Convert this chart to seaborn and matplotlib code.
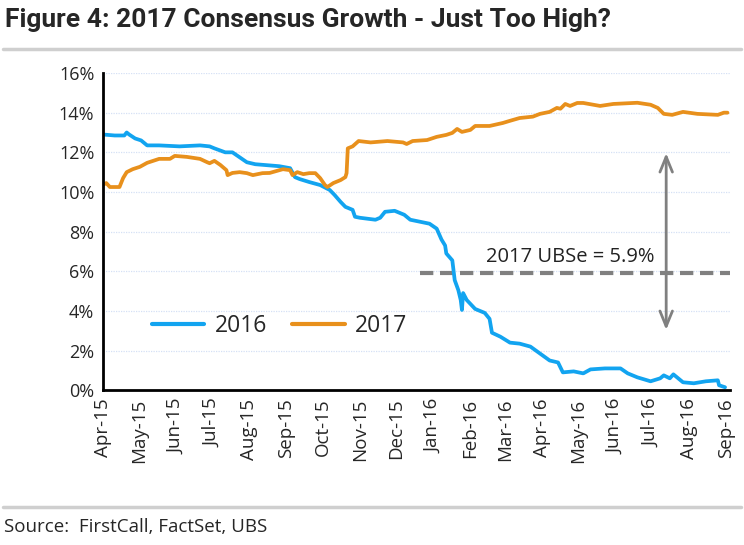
import pandas as pd
import matplotlib.pyplot as plt
import matplotlib.dates as mdates
from matplotlib.lines import Line2D
import seaborn as sns

# 2016 consensus growth (%)
dates_2016 = [
    "2015-04-01", "2015-04-11", "2015-04-19", "2015-04-21", "2015-04-23", "2015-04-28",
    "2015-05-03", "2015-05-08", "2015-05-18", "2015-06-04", "2015-06-21", "2015-06-29",
    "2015-07-03", "2015-07-12", "2015-07-18", "2015-07-24", "2015-07-30", "2015-08-06",
    "2015-08-16", "2015-08-26", "2015-09-04", "2015-09-08", "2015-09-12", "2015-09-20",
    "2015-09-29", "2015-10-07", "2015-10-11", "2015-10-16", "2015-10-20", "2015-10-26",
    "2015-10-28", "2015-11-01", "2015-11-14", "2015-11-18", "2015-11-22", "2015-11-30",
    "2015-12-08", "2015-12-13", "2015-12-21", "2015-12-29", "2016-01-04", "2016-01-08",
    "2016-01-11", "2016-01-12", "2016-01-17", "2016-01-19", "2016-01-22", "2016-01-24",
    "2016-01-25", "2016-01-26", "2016-01-29", "2016-02-05", "2016-02-13", "2016-02-17",
    "2016-02-19", "2016-02-26", "2016-03-05", "2016-03-13", "2016-03-22", "2016-03-30",
    "2016-04-07", "2016-04-14", "2016-04-18", "2016-04-27", "2016-05-05", "2016-05-11",
    "2016-05-23", "2016-06-05", "2016-06-11", "2016-06-19", "2016-06-30", "2016-07-08",
    "2016-07-11", "2016-07-16", "2016-07-19", "2016-07-27", "2016-08-05", "2016-08-15",
    "2016-08-25", "2016-08-26", "2016-08-31",
]
growth_2016 = [
    12.9, 12.85, 12.85, 13.0, 12.9, 12.7,
    12.6, 12.35, 12.35, 12.3, 12.35, 12.3,
    12.2, 12.0, 12.0, 11.75, 11.5, 11.4,
    11.35, 11.3, 11.2, 10.75, 10.65, 10.5,
    10.35, 10.1, 9.85, 9.5, 9.25, 9.1,
    8.75, 8.7, 8.6, 8.7, 9.0, 9.05,
    8.85, 8.6, 8.5, 8.4, 8.15, 7.6,
    7.3, 6.9, 6.55, 5.55, 5.05, 4.55,
    4.05, 4.9, 4.55, 4.1, 3.9, 3.6,
    2.9, 2.7, 2.4, 2.35, 2.2, 1.85,
    1.5, 1.4, 0.9, 0.95, 0.85, 1.05,
    1.1, 1.1, 0.85, 0.65, 0.45, 0.6,
    0.75, 0.6, 0.8, 0.4, 0.35, 0.45,
    0.5, 0.25, 0.15,
]

# 2017 consensus growth (%)
dates_2017 = [
    "2015-04-01", "2015-04-04", "2015-04-07", "2015-04-15", "2015-04-18", "2015-04-21",
    "2015-04-26", "2015-05-02", "2015-05-08", "2015-05-13", "2015-05-18", "2015-05-27",
    "2015-05-31", "2015-06-10", "2015-06-21", "2015-06-27", "2015-06-29", "2015-07-03",
    "2015-07-08", "2015-07-13", "2015-07-14", "2015-07-18", "2015-07-24", "2015-07-30",
    "2015-08-04", "2015-08-12", "2015-08-18", "2015-08-29", "2015-09-04", "2015-09-06",
    "2015-09-10", "2015-09-15", "2015-09-20", "2015-09-25", "2015-09-29", "2015-10-03",
    "2015-10-05", "2015-10-10", "2015-10-16", "2015-10-20", "2015-10-21", "2015-10-22",
    "2015-10-26", "2015-10-31", "2015-11-10", "2015-11-24", "2015-12-07", "2015-12-10",
    "2015-12-15", "2015-12-27", "2016-01-04", "2016-01-12", "2016-01-17", "2016-01-21",
    "2016-01-25", "2016-02-01", "2016-02-05", "2016-02-17", "2016-02-28", "2016-03-05",
    "2016-03-13", "2016-03-24", "2016-03-30", "2016-04-07", "2016-04-13", "2016-04-16",
    "2016-04-20", "2016-04-24", "2016-04-30", "2016-05-05", "2016-05-19", "2016-05-30",
    "2016-06-19", "2016-06-30", "2016-07-06", "2016-07-11", "2016-07-18", "2016-07-27",
    "2016-08-08", "2016-08-25", "2016-08-30", "2016-09-02",
]
growth_2017 = [
    10.35, 10.45, 10.25, 10.25, 10.7, 11.0,
    11.15, 11.27, 11.47, 11.57, 11.67, 11.67,
    11.82, 11.77, 11.67, 11.5, 11.45, 11.57,
    11.36, 11.1, 10.85, 10.96, 11.0, 10.95,
    10.85, 10.95, 10.96, 11.15, 11.1, 10.85,
    11.0, 10.9, 10.95, 10.95, 10.7, 10.35,
    10.25, 10.45, 10.6, 10.75, 10.95, 12.2,
    12.3, 12.57, 12.5, 12.57, 12.5, 12.42,
    12.57, 12.62, 12.78, 12.88, 12.98, 13.18,
    13.03, 13.13, 13.33, 13.33, 13.48, 13.59,
    13.73, 13.8, 13.94, 14.04, 14.24, 14.2,
    14.44, 14.34, 14.49, 14.49, 14.34, 14.44,
    14.5, 14.4, 14.24, 13.94, 13.89, 14.04,
    13.94, 13.89, 14.0, 14.0,
]

ubs_estimate = 5.9
ubs_label = "2017 UBSe = 5.9%"
y_ticks = [0, 2, 4, 6, 8, 10, 12, 14, 16]

df = pd.concat([
    pd.DataFrame({"date": pd.to_datetime(dates_2016), "growth": growth_2016, "series": "2016"}),
    pd.DataFrame({"date": pd.to_datetime(dates_2017), "growth": growth_2017, "series": "2017"}),
])

sns.set_style("white")
plt.rcParams["font.family"] = ["Open Sans", "DejaVu Sans"]

fig = plt.figure(figsize=(7.44, 5.45), dpi=100)
ax = fig.add_axes([0.138, 0.284, 0.843, 0.582])

sns.lineplot(data=df, x="date", y="growth", hue="series",
             palette={"2016": "#12a4f0", "2017": "#e8901c"},
             linewidth=2.7, ax=ax, estimator=None)

# UBS estimate line and gap arrow
ax.plot(pd.to_datetime(["2015-12-21", "2016-09-04"]), [ubs_estimate, ubs_estimate],
        color="#808080", lw=3, dashes=(3.2, 1.6), zorder=1)
ax.text(pd.Timestamp("2016-04-24"), ubs_estimate + 0.3, ubs_label,
        ha="center", va="bottom", fontsize=14.5, color="#222222")
ax.annotate("", xy=(pd.Timestamp("2016-07-13"), 12.1), xytext=(pd.Timestamp("2016-07-13"), 2.9),
            arrowprops=dict(arrowstyle="<->,head_length=1.1,head_width=0.45",
                            color="#808080", lw=2))

ax.set_ylim(0, 16)
ax.set_yticks(y_ticks)
ax.set_yticklabels([f"{t}%" for t in y_ticks], fontsize=13)
ax.set_xlim(pd.Timestamp("2015-04-01"), pd.Timestamp("2016-09-04"))
ax.xaxis.set_major_locator(mdates.MonthLocator())
ax.xaxis.set_major_formatter(mdates.DateFormatter("%b-%y"))
plt.setp(ax.get_xticklabels(), rotation=90, fontsize=13.5)
ax.tick_params(axis="both", length=0, pad=6)
ax.set_xlabel("")
ax.set_ylabel("")

ax.grid(axis="y", color="#d5e0f5", linestyle=(0, (1, 1)), lw=0.9)
for side in ["top", "right"]:
    ax.spines[side].set_visible(False)
for side in ["left", "bottom"]:
    ax.spines[side].set_color("black")
    ax.spines[side].set_linewidth(2)

leg = ax.legend(loc="lower left", bbox_to_anchor=(0.045, 0.1), ncol=2, frameon=False,
                fontsize=16.5, handlelength=2.3, columnspacing=1.1, handletextpad=0.45)
for line in leg.get_lines():
    line.set_linewidth(3)

fig.text(0.007, 0.963, "Figure 4: 2017 Consensus Growth - Just Too High?",
         fontsize=19, fontweight="bold", va="center",
         family=["Roboto", "DejaVu Sans"])
fig.add_artist(Line2D([0.004, 0.996], [0.911, 0.911], transform=fig.transFigure,
                      color="#cfcfcf", lw=2.5))
fig.add_artist(Line2D([0.004, 0.996], [0.070, 0.070], transform=fig.transFigure,
                      color="#cfcfcf", lw=2.5))
fig.text(0.005, 0.033, "Source:  FirstCall, FactSet, UBS", fontsize=13.5, va="center")

fig.savefig("out.png", dpi=100)
